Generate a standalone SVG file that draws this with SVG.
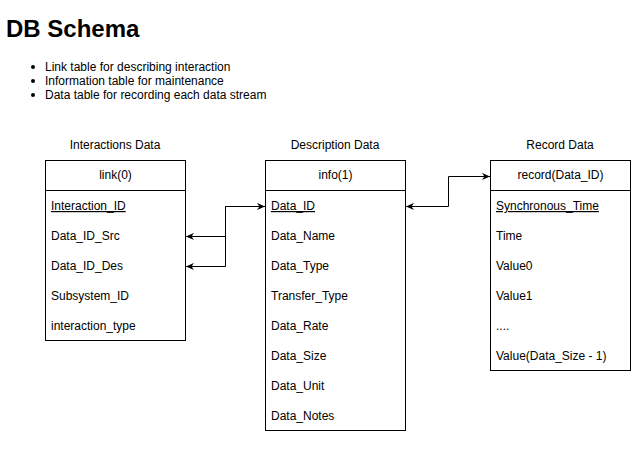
<svg xmlns="http://www.w3.org/2000/svg" width="641" height="461" viewBox="0 0 641 461">
<style>
text{font-family:"Liberation Sans",Arial,Helvetica,sans-serif;fill:#000}
.t{font-size:12px}
.c{text-anchor:middle}
.box{fill:#fff;stroke:#000;stroke-width:1}
.pk{text-decoration:underline}
.edge{fill:none;stroke:#000;stroke-width:1}
</style>
<defs>
<marker id="arr" viewBox="0 0 10 10" refX="10" refY="5" markerUnits="userSpaceOnUse" markerWidth="8" markerHeight="8" orient="auto-start-reverse">
<path d="M0,0.5 L10,5 L0,9.5 L3,5 Z" fill="#000"/>
</marker>
</defs>
<rect width="641" height="461" fill="#fff"/>
<g id="title">
<text x="6" y="37" font-size="24" font-weight="bold">DB Schema</text>
<circle cx="33" cy="67" r="2" fill="#000"/>
<circle cx="33" cy="81" r="2" fill="#000"/>
<circle cx="33" cy="95" r="2" fill="#000"/>
<text class="t" x="45" y="71">Link table for describing interaction</text>
<text class="t" x="45" y="85">Information table for maintenance</text>
<text class="t" x="45" y="99">Data table for recording each data stream</text>
</g>
<g id="link">
<text class="t c" x="115" y="149">Interactions Data</text>
<rect class="box" x="45.5" y="160.5" width="140" height="180"/>
<line x1="45.5" y1="190.5" x2="185.5" y2="190.5" stroke="#000"/>
<text class="t c" x="115.5" y="179">link(0)</text>
<text class="t pk" x="51" y="210">Interaction_ID</text>
<text class="t" x="51" y="240">Data_ID_Src</text>
<text class="t" x="51" y="270">Data_ID_Des</text>
<text class="t" x="51" y="300">Subsystem_ID</text>
<text class="t" x="51" y="330">interaction_type</text>
</g>
<g id="info">
<text class="t c" x="335" y="149">Description Data</text>
<rect class="box" x="265.5" y="160.5" width="140" height="270"/>
<line x1="265.5" y1="190.5" x2="405.5" y2="190.5" stroke="#000"/>
<text class="t c" x="335.5" y="179">info(1)</text>
<text class="t pk" x="271" y="210">Data_ID</text>
<text class="t" x="271" y="240">Data_Name</text>
<text class="t" x="271" y="270">Data_Type</text>
<text class="t" x="271" y="300">Transfer_Type</text>
<text class="t" x="271" y="330">Data_Rate</text>
<text class="t" x="271" y="360">Data_Size</text>
<text class="t" x="271" y="390">Data_Unit</text>
<text class="t" x="271" y="420">Data_Notes</text>
</g>
<g id="record">
<text class="t c" x="560" y="149">Record Data</text>
<rect class="box" x="490.5" y="160.5" width="140" height="210"/>
<line x1="490.5" y1="190.5" x2="630.5" y2="190.5" stroke="#000"/>
<text class="t c" x="560.5" y="179">record(Data_ID)</text>
<text class="t pk" x="496" y="210">Synchronous_Time</text>
<text class="t" x="496" y="240">Time</text>
<text class="t" x="496" y="270">Value0</text>
<text class="t" x="496" y="300">Value1</text>
<text class="t" x="496" y="330">....</text>
<text class="t" x="496" y="360">Value(Data_Size - 1)</text>
</g>
<g id="connectors">
<path class="edge" d="M265,206.5 H225.5 V236.5 H186" marker-start="url(#arr)" marker-end="url(#arr)"/>
<path class="edge" d="M265,206.5 H225.5 V266.5 H186" marker-end="url(#arr)"/>
<path class="edge" d="M406,206.5 H448.5 V176.5 H490" marker-start="url(#arr)" marker-end="url(#arr)"/>
</g>
</svg>
